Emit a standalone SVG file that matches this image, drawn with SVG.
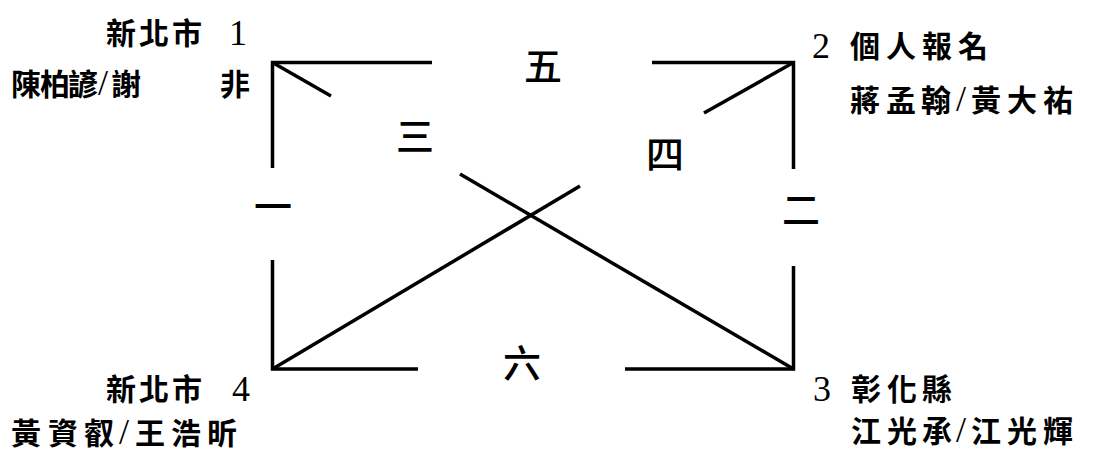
<svg xmlns="http://www.w3.org/2000/svg" width="1096" height="454" viewBox="0 0 1096 454">
<style>
.bg{fill:#ffffff}
.ln{fill:none;stroke:#000;stroke-width:3.5;stroke-linecap:butt;stroke-linejoin:miter}
.t{font-family:"Noto Sans CJK TC","Noto Sans CJK SC",sans-serif;font-size:30px;font-weight:700;fill:#000}
.n{font-family:"Liberation Serif",serif;font-size:36px;font-weight:normal}
.lab{font-family:"Noto Sans CJK TC","Noto Sans CJK SC",sans-serif;font-size:38px;font-weight:500;fill:#000;text-anchor:middle}
</style>
<rect class="bg" x="0" y="0" width="1096" height="454"/>
<g id="connectors">
<path class="ln" d="M432 62.5 H272.5 V168"/>
<path class="ln" d="M652 62.5 H793.5 V169"/>
<path class="ln" d="M272.5 260 V369 H418"/>
<path class="ln" d="M625 369 H793.5 V266"/>
<line class="ln" x1="272.5" y1="62.5" x2="331" y2="96"/>
<line class="ln" x1="460" y1="174" x2="793.5" y2="369"/>
<line class="ln" x1="793.5" y1="62.5" x2="704" y2="113"/>
<line class="ln" x1="580" y1="186" x2="272.5" y2="369"/>
</g>
<g id="round-labels">
<text class="lab" x="543" y="80">五</text>
<text class="lab" x="415" y="150">三</text>
<text class="lab" x="665" y="168">四</text>
<text class="lab" x="273" y="220">一</text>
<text class="lab" x="801" y="224">二</text>
<text class="lab" x="522" y="377">六</text>
</g>
<g id="node-1">
<text class="t" y="44"><tspan x="106">新</tspan><tspan x="139">北</tspan><tspan x="172">市</tspan> <tspan class="n" x="229" y="45">1</tspan></text>
<text class="t" y="95"><tspan x="11">陳</tspan><tspan x="40">柏</tspan><tspan x="68">諺</tspan><tspan class="n" x="98" y="95">/</tspan><tspan x="111" y="95">謝</tspan>　<tspan x="220">非</tspan></text>
</g>
<g id="node-2">
<text class="t" y="57"><tspan class="n" x="812" y="58">2</tspan> <tspan x="850" y="57">個</tspan><tspan x="886">人</tspan><tspan x="922">報</tspan><tspan x="958">名</tspan></text>
<text class="t" y="111"><tspan x="850">蔣</tspan><tspan x="886">孟</tspan><tspan x="921">翰</tspan><tspan class="n" x="956" y="111">/</tspan><tspan x="971" y="111">黃</tspan><tspan x="1007">大</tspan><tspan x="1043">祐</tspan></text>
</g>
<g id="node-3">
<text class="t" y="400"><tspan class="n" x="813" y="401">3</tspan> <tspan x="851" y="400">彰</tspan><tspan x="887">化</tspan><tspan x="922">縣</tspan></text>
<text class="t" y="442"><tspan x="851">江</tspan><tspan x="887">光</tspan><tspan x="922">承</tspan><tspan class="n" x="956" y="442">/</tspan><tspan x="971" y="442">江</tspan><tspan x="1007">光</tspan><tspan x="1043">輝</tspan></text>
</g>
<g id="node-4">
<text class="t" y="400"><tspan x="106">新</tspan><tspan x="139">北</tspan><tspan x="172">市</tspan> <tspan class="n" x="232" y="401">4</tspan></text>
<text class="t" y="444"><tspan x="11">黃</tspan><tspan x="48">資</tspan><tspan x="84">叡</tspan><tspan class="n" x="119" y="444">/</tspan><tspan x="135" y="444">王</tspan><tspan x="171">浩</tspan><tspan x="207">昕</tspan></text>
</g>
</svg>
